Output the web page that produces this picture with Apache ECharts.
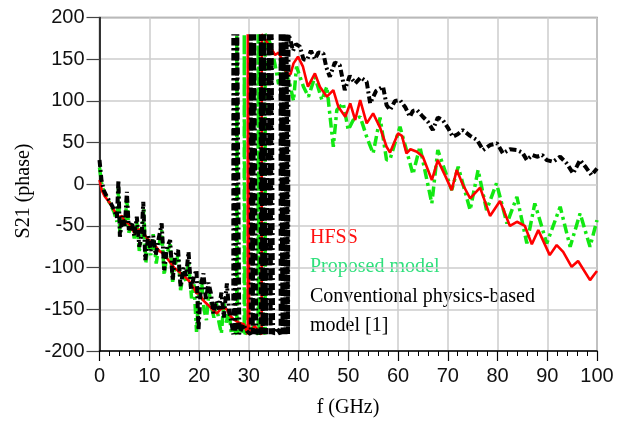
<!DOCTYPE html>
<html>
<head>
<meta charset="utf-8">
<script src="https://cdn.jsdelivr.net/npm/echarts@6/dist/echarts.min.js"></script>
<style>
html,body{margin:0;padding:0;background:#fff;}
#chart{width:617px;height:423px;}
</style>
</head>
<body>
<div id="chart"></div>
<script>
// ---- Data (frequency GHz, S21 phase deg) ----
const hfssPoints = [
 [0,5],[0.5,-8],[1,-14],[1.5,-18],[2,-22],[3,-32],[4,-40],[4.5,-38],[5,-44],[6,-48],[7,-58],[8,-54],[9,-60],[10,-68],
 [11,-72],[12,-80],[13,-84],[14,-92],[15,-100],[16,-105],[17,-110],[18,-116],[19,-125],[19.5,-131],[20,-130],[20.8,-139],
 [21.5,-143],[22.2,-147],[23,-152],[23.6,-155],[24.3,-150],[25,-148],[25.6,-150],[26.3,-158],[27,-162],[28,-166],[29,-168],
 [29.8,-180],[29.8,180],[30.1,-180],[31.2,-170],[32.6,-180],[32.6,180],[33.5,172],[34.5,163],[35.3,155],[36.0,158],
 [36.8,148],[37.6,133],[38.4,132],[39.0,145],[39.9,153],[40.9,141],[41.9,117],[43.3,133],[44.3,117],[45.7,105],[47.0,113],
 [48.0,93],[49.4,81],[50.4,97],[51.4,77],[52.4,101],[53.7,73],[55.0,85],[56.4,68],[57.7,45],[58.4,38],[60.0,61],[60.8,58],
 [61.7,37],[62.5,42],[63.8,39],[65.0,33],[66.8,5],[68.0,29],[69.5,10],[70.8,-7],[71.8,17],[73.0,0],[74.5,-17],[76.5,-4],
 [78.5,-38],[80.5,-20],[82.5,-50],[83.9,-45],[85.5,-50],[86.9,-72],[88.2,-55],[90.5,-85],[91.9,-73],[93.2,-81],[94.9,-99],
 [96.2,-92],[98.6,-115],[99.6,-107],[100,-104]
];

const proposedPoints = [
 [0,20],[0.4,2],[0.9,-10],[1.5,-17],[2.2,-24],[2.9,-33],[3.5,-45],[3.8,-5],[4.1,-61],[4.6,-40],[5.1,-52],[5.5,-15],[5.9,-58],
 [6.5,-48],[7.0,-65],[7.5,-45],[8.0,-80],[8.6,-60],[8.9,-30],[9.3,-95],[9.8,-68],[10.3,-85],[10.8,-60],[11.4,-95],[12.0,-72],
 [12.5,-55],[13.0,-109],[13.6,-82],[14.2,-72],[14.7,-117],[15.3,-95],[15.8,-85],[16.3,-127],[16.9,-105],[17.4,-118],[17.9,-92],
 [18.5,-137],[19.0,-120],[19.5,-177],[20.0,-125],[20.5,-115],[21.0,-150],[21.5,-163],[22.0,-128],[22.5,-147],[23.0,-160],
 [23.5,-142],[24.0,-165],[24.5,-179],[25.0,-142],[25.5,-166],[26.0,-150],[26.5,-179],[27.2,-176],
 [27.6,-180],[27.6,180],[27.75,-180],[28.4,-172],[29.1,-180],[29.1,180],[29.25,-180],[30.5,-170],[31.9,-180],[31.9,180],
 [32.05,-180],[32.8,-172],[33.3,-180],[33.3,180],[33.8,176],[34.5,166],[35.3,143],[36.0,120],[36.6,150],[37.3,138],
 [38.3,119],[39.0,100],[39.6,141],[41.0,117],[42.0,105],[43.3,129],[44.7,101],[45.7,117],[47.0,45],[47.7,89],[49.0,97],
 [50.0,65],[51.0,77],[52.4,81],[53.7,57],[55.0,37],[56.4,80],[57.7,29],[58.4,30],[60.4,69],[61.7,41],[63.0,12],[64.4,45],
 [66.8,-23],[68.0,41],[70.8,-7],[72.1,21],[74.5,-31],[76.1,17],[77.8,-31],[79.8,1],[81.9,-47],[83.9,-15],[85.9,-71],
 [87.5,-23],[89.9,-71],[92.6,-27],[94.6,-75],[96.6,-35],[98.6,-75],[100,-43]
];

const conventionalPoints = [
 [0,29],[0.4,5],[0.9,-8],[1.5,-15],[2.2,-22],[2.9,-30],[3.5,-40],[3.8,5],[4.1,-63],[4.6,-38],[5.1,-50],[5.5,-9],[5.9,-55],
 [6.5,-45],[7.0,-62],[7.5,-39],[8.0,-75],[8.5,-58],[8.8,-21],[9.2,-91],[9.8,-62],[10.3,-80],[10.8,-62],[11.3,-85],[11.9,-65],
 [12.5,-47],[13.0,-103],[13.6,-75],[14.2,-67],[14.7,-115],[15.2,-85],[15.8,-79],[16.3,-123],[16.9,-100],[17.4,-110],[17.9,-81],
 [18.4,-127],[19.0,-110],[19.5,-103],[19.9,-175],[20.4,-120],[20.9,-107],[21.4,-139],[21.9,-118],[22.4,-131],[22.9,-155],
 [23.4,-140],[24.0,-150],[24.5,-130],[25.0,-160],[25.6,-119],[26.1,-155],[26.5,-165],
 [26.9,-180],[26.9,180],[27.3,-180],[27.7,-180],[27.7,180],[28.1,-180],[28.9,-168],[29.6,-176],
 [30.4,-180],[30.4,180],[30.8,-180],[31.1,-180],[31.1,180],[31.5,-180],[32.0,-172],
 [32.4,-180],[32.4,180],[32.8,-180],[33.1,-180],[33.1,180],[33.5,-180],[33.9,-178],
 [34.0,180],[34.4,-180],[34.6,-180],[34.6,180],[34.9,-180],[35.6,-172],
 [36.4,-180],[36.4,180],[36.8,-180],[37.0,-180],[37.0,180],[37.4,-180],[37.6,-180],[37.6,180],[37.9,-180],[38.0,-180],
 [38.0,180],[38.5,170],[38.9,160],
 [39.5,168],[40.3,165],[41.0,150],[41.7,149],[42.5,160],[43.3,150],[44.0,158],[45.0,157],[45.6,140],[46.3,129],[47.3,146],
 [48.3,143],[49.3,113],[50.3,130],[51.4,121],[52.5,128],[53.7,123],[54.4,97],[55.6,112],[57.0,117],[57.7,95],[58.4,89],
 [59.4,100],[60.4,101],[61.5,92],[62.4,81],[63.0,88],[63.8,89],[65.0,81],[66.0,75],[67.0,65],[68.0,80],[69.0,77],[70.0,68],
 [71.0,57],[72.0,60],[73.0,65],[74.5,58],[75.9,53],[77.1,41],[78.5,47],[79.9,49],[81.1,37],[82.5,42],[83.9,41],[85.0,38],
 [85.9,29],[87.0,35],[87.9,33],[89.0,35],[89.9,29],[91.2,27],[92.6,33],[93.9,25],[95.2,13],[96.0,22],[96.6,29],[97.8,20],
 [98.9,11],[100,19]
];

const legendLabels = ['HFSS', 'Proposed model', 'Conventional physics-based', 'model [1]'];
const xAxisTitle = 'f (GHz)';
const yAxisTitle = 'S21 (phase)';

// ---- Chart ----
const chart = echarts.init(document.getElementById('chart'), null, {renderer: 'canvas'});
const tickFont = 'Liberation Sans';
const serif = 'Liberation Serif';

chart.setOption({
  animation: false,
  backgroundColor: '#fff',
  grid: {left: 99.5, right: 20, top: 17.5, bottom: 72, show: true, borderColor: '#808080', borderWidth: 1.5, backgroundColor: 'transparent'},
  xAxis: {
    type: 'value', min: 0, max: 100, interval: 10,
    axisLine: {show: true, onZero: false, lineStyle: {color: '#000', width: 1.5}},
    axisTick: {show: true, inside: false, length: 10, lineStyle: {color: '#000', width: 1.2}},
    minorTick: {show: true, splitNumber: 5, length: 5, lineStyle: {color: '#000', width: 1}},
    splitLine: {show: true, lineStyle: {color: '#cccccc', width: 1.5}},
    axisLabel: {fontSize: 20, margin: 15, color: '#111', fontFamily: tickFont}
  },
  yAxis: {
    type: 'value', min: -200, max: 200, interval: 50,
    axisLine: {show: true, onZero: false, lineStyle: {color: '#000', width: 1.5}},
    axisTick: {show: true, inside: false, length: 13, lineStyle: {color: '#444', width: 1.2}},
    splitLine: {show: true, lineStyle: {color: '#cccccc', width: 1.5}},
    axisLabel: {fontSize: 20, margin: 15, color: '#111', fontFamily: tickFont}
  },
  graphic: [
    {type: 'text', x: 348, y: 408, style: {text: xAxisTitle, textAlign: 'center', textVerticalAlign: 'middle', font: '20px ' + serif, fill: '#000'}},
    {type: 'text', x: 24, y: 191, rotation: Math.PI / 2, style: {text: yAxisTitle, textAlign: 'center', textVerticalAlign: 'middle', font: '20px ' + serif, fill: '#000'}},
    {type: 'text', x: 310, y: 238, style: {text: legendLabels[0], textVerticalAlign: 'middle', font: '20px ' + serif, fill: '#ff1010'}},
    {type: 'text', x: 310, y: 267, style: {text: legendLabels[1], textVerticalAlign: 'middle', font: '20px ' + serif, fill: '#2fe07c'}},
    {type: 'text', x: 310, y: 297, style: {text: legendLabels[2], textVerticalAlign: 'middle', font: '20px ' + serif, fill: '#000'}},
    {type: 'text', x: 310, y: 326, style: {text: legendLabels[3], textVerticalAlign: 'middle', font: '20px ' + serif, fill: '#000'}}
  ],
  series: [
    {name: 'Proposed model', type: 'line', data: proposedPoints, showSymbol: false, z: 2,
     lineStyle: {color: '#12e812', width: 3.5, type: [10, 4, 3, 4], cap: 'butt'}},
    {name: 'HFSS', type: 'line', data: hfssPoints, showSymbol: false, z: 3,
     lineStyle: {color: '#ff0000', width: 2.6}},
    {name: 'Conventional', type: 'line', data: conventionalPoints, showSymbol: false, z: 4,
     lineStyle: {color: '#000', width: 4, type: [7, 3, 2, 3], cap: 'butt'}}
  ]
});
</script>
</body>
</html>
